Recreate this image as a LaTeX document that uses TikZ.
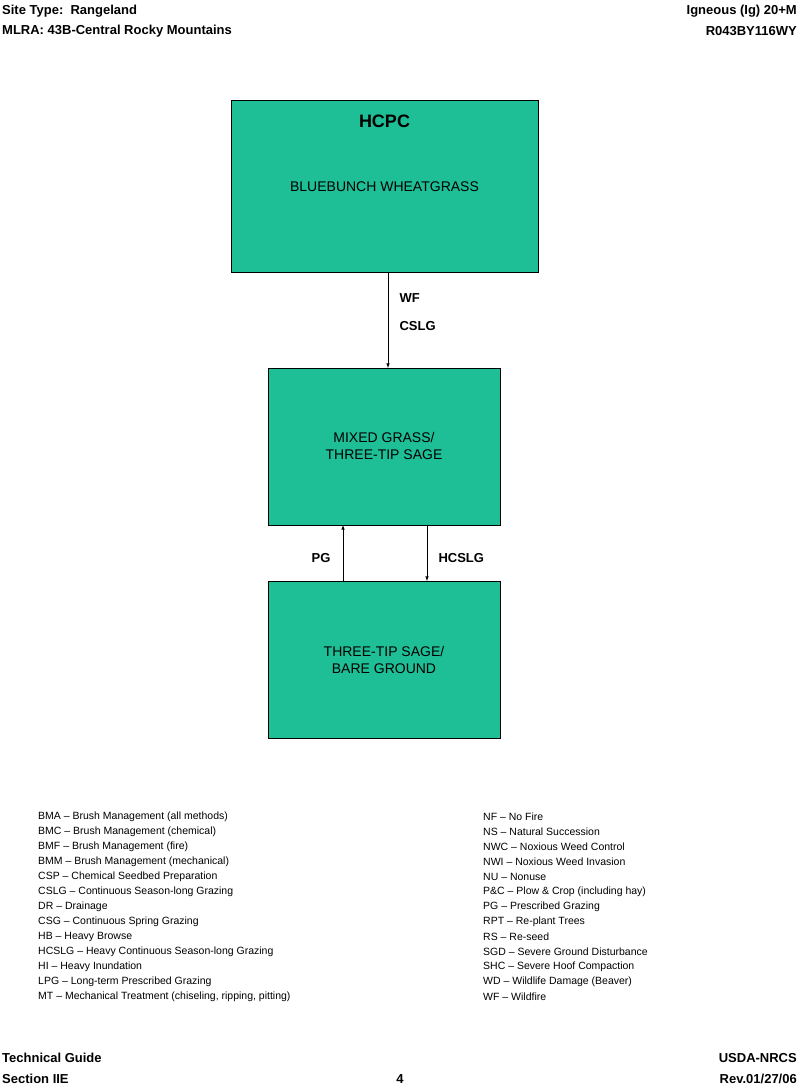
\documentclass[tikz,border=0pt]{standalone}
\usepackage{fontspec}
\setmainfont{Liberation Sans}
\definecolor{stategreen}{RGB}{30,190,150}

\begin{document}
\begin{tikzpicture}[x=1pt,y=-1pt,
    statebox/.style={draw=black,fill=stategreen,line width=0.8pt},
    boxtext/.style={font=\fontsize{14}{17}\selectfont,align=center},
    arrowlabel/.style={font=\bfseries\fontsize{13}{15}\selectfont},
    headtext/.style={font=\bfseries\fontsize{13}{15}\selectfont},
    legend/.style={font=\fontsize{10.5}{12}\selectfont,anchor=west,inner sep=0pt},
    flow/.style={->,>=latex,line width=0.6pt}]
    % Page frame
    \useasboundingbox (0,0) rectangle (800,1092);

    % Header and footer
    \node[headtext,anchor=west,inner sep=0pt] (sitetype) at (2,11) {Site Type:\ \ Rangeland};
    \node[headtext,anchor=west,inner sep=0pt] (mlra) at (2,31) {MLRA: 43B-Central Rocky Mountains};
    \node[headtext,anchor=east,inner sep=0pt] (igneous) at (797,11) {Igneous (Ig) 20+M};
    \node[headtext,anchor=east,inner sep=0pt] (siteid) at (797,31) {R043BY116WY};
    \node[headtext,anchor=west,inner sep=0pt] (guide) at (2,1058) {Technical Guide};
    \node[headtext,anchor=west,inner sep=0pt] (section) at (2,1079) {Section IIE};
    \node[headtext,inner sep=0pt] (pagenum) at (400,1079) {4};
    \node[headtext,anchor=east,inner sep=0pt] (agency) at (797,1058) {USDA-NRCS};
    \node[headtext,anchor=east,inner sep=0pt] (rev) at (797,1079) {Rev.01/27/06};

    % State boxes
    \draw[statebox] (231,100) rectangle (538,272);
    \draw[statebox] (268,368) rectangle (500,525);
    \draw[statebox] (268,581) rectangle (500,738);
    \node[font=\bfseries\fontsize{18}{20}\selectfont] (hcpc) at (384.5,121) {HCPC};
    \node[boxtext] (bluebunch) at (384.5,187) {BLUEBUNCH WHEATGRASS};
    \node[boxtext] (mixed) at (384,446) {MIXED GRASS/\\THREE-TIP SAGE};
    \node[boxtext] (bare) at (384,660) {THREE-TIP SAGE/\\BARE GROUND};

    % Transitions
    \coordinate (toptop) at (388,272);
    \coordinate (topbot) at (388,368);
    \coordinate (pgtop) at (343,525);
    \coordinate (pgbot) at (343,581);
    \coordinate (hctop) at (427,525);
    \coordinate (hcbot) at (427,581);
    \draw[flow] (toptop) -- (topbot);
    \draw[flow] (pgbot) -- (pgtop);
    \draw[flow] (hctop) -- (hcbot);
    \node[arrowlabel,anchor=west] (wf) at (396,298) {WF};
    \node[arrowlabel,anchor=west] (cslg) at (396,326) {CSLG};
    \node[arrowlabel,anchor=east] (pg) at (334,558) {PG};
    \node[arrowlabel,anchor=west] (hcslg) at (435,558) {HCSLG};

    % Legend, left column
    \foreach \code [count=\i] in {%
        BMA -- Brush Management (all methods),
        BMC -- Brush Management (chemical),
        BMF -- Brush Management (fire),
        BMM -- Brush Management (mechanical),
        CSP -- Chemical Seedbed Preparation,
        CSLG -- Continuous Season-long Grazing,
        DR -- Drainage,
        CSG -- Continuous Spring Grazing,
        HB -- Heavy Browse,
        HCSLG -- Heavy Continuous Season-long Grazing,
        HI -- Heavy Inundation,
        LPG -- Long-term Prescribed Grazing,
        {MT -- Mechanical Treatment (chiseling, ripping, pitting)}} {
        \node[legend] (left\i) at (38,802+15*\i) {\code};
    }

    % Legend, right column
    \foreach \code [count=\i] in {%
        NF -- No Fire,
        NS -- Natural Succession,
        NWC -- Noxious Weed Control,
        NWI -- Noxious Weed Invasion,
        NU -- Nonuse,
        P\&C -- Plow \& Crop (including hay),
        PG -- Prescribed Grazing,
        RPT -- Re-plant Trees,
        RS -- Re-seed,
        SGD -- Severe Ground Disturbance,
        SHC -- Severe Hoof Compaction,
        WD -- Wildlife Damage (Beaver),
        WF -- Wildfire} {
        \node[legend] (right\i) at (483,802+15*\i) {\code};
    }
\end{tikzpicture}
\end{document}
